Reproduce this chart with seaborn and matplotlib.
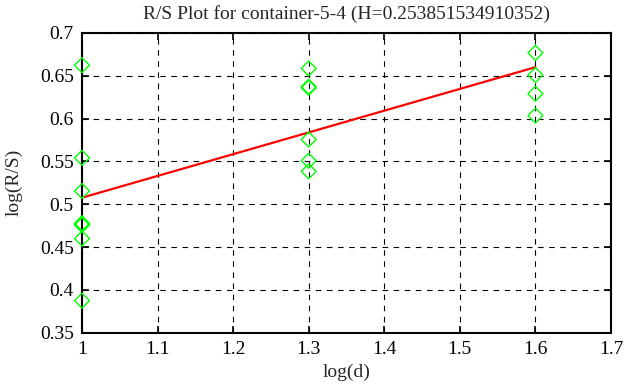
# R/S plot (gnuplot-like look) for container-5-4
import seaborn as sns
import matplotlib
matplotlib.use("Agg")
import matplotlib.pyplot as plt

# data
log_d_10 = [1.0] * 8
rs_10 = [0.6623, 0.5542, 0.5155, 0.4778, 0.4766, 0.4758, 0.4600, 0.3876]
log_d_20 = [1.3] * 6
rs_20 = [0.6585, 0.6372, 0.6360, 0.5756, 0.5508, 0.5384]
log_d_40 = [1.6] * 4
rs_40 = [0.6767, 0.6508, 0.6290, 0.6035]

fit_x = [1.0, 1.6]
fit_y = [0.5077, 0.6600]

x_ticks = [1.0, 1.1, 1.2, 1.3, 1.4, 1.5, 1.6, 1.7]
x_labels = ["1", "1.1", "1.2", "1.3", "1.4", "1.5", "1.6", "1.7"]
y_ticks = [0.35, 0.4, 0.45, 0.5, 0.55, 0.6, 0.65, 0.7]
y_labels = ["0.35", "0.4", "0.45", "0.5", "0.55", "0.6", "0.65", "0.7"]

title = "R/S Plot for container-5-4 (H=0.253851534910352)"

sns.set_style("ticks")
plt.rcParams['font.family'] = ['Liberation Serif', 'DejaVu Serif']

fig = plt.figure(figsize=(6.26, 3.87), dpi=100)
ax = fig.add_axes([0.131, 0.140, 0.845, 0.775])

xs = log_d_10 + log_d_20 + log_d_40
ys = rs_10 + rs_20 + rs_40
sns.scatterplot(x=xs, y=ys, marker='D', s=58, facecolors='none',
                edgecolors='#00ff00', linewidth=1.0, ax=ax, zorder=5,
                clip_on=False)
sns.lineplot(x=fit_x, y=fit_y, color='red', linewidth=1.6, ax=ax, zorder=4)

ax.set_xlim(1.0, 1.7)
ax.set_ylim(0.35, 0.7)
ax.set_xticks(x_ticks)
ax.set_xticklabels(x_labels)
ax.set_yticks(y_ticks)
ax.set_yticklabels(y_labels)
ax.tick_params(direction='in', top=True, right=True, length=5, width=1.2,
               labelsize=14, colors='black', pad=6)
ax.grid(True, color='black', linestyle=(0, (5, 5)), linewidth=0.8)
for s in ax.spines.values():
    s.set_linewidth(1.5)
    s.set_color('black')

ax.set_title(title, fontsize=14, pad=10)
ax.set_xlabel("log(d)", fontsize=14, labelpad=4)
ax.set_ylabel("log(R/S)", fontsize=14, labelpad=12)

fig.savefig("out.png", dpi=100, facecolor='white')
